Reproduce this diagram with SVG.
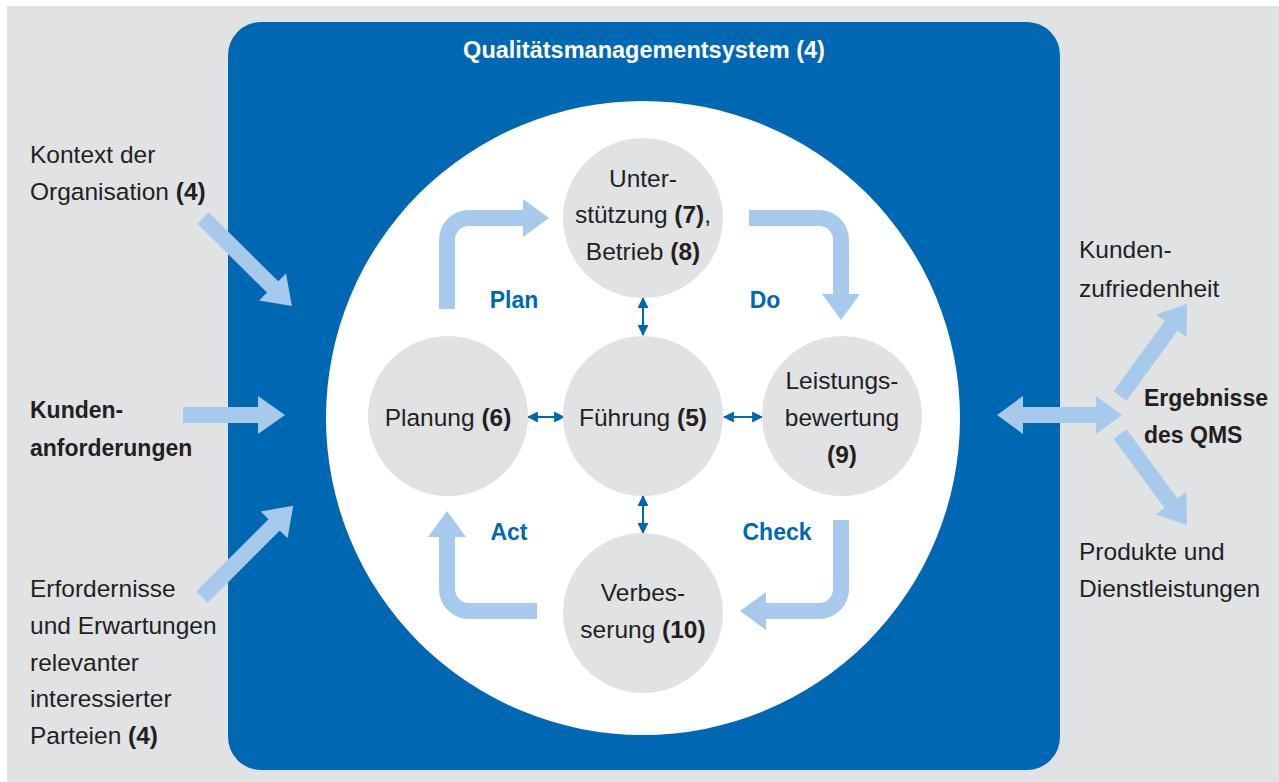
<svg xmlns="http://www.w3.org/2000/svg" width="1279" height="782" viewBox="0 0 1279 782">
<defs>
<style>
.t{font-family:"Liberation Sans",Arial,sans-serif;font-size:24.5px;fill:#231f20}
.b{font-weight:bold}
.c{text-anchor:middle}
.lbl{font-family:"Liberation Sans",Arial,sans-serif;font-size:23px;font-weight:bold;fill:#0068b3}
.node{fill:#e1e2e4}
.big{fill:#a7c9eb}
.bigs{fill:none;stroke:#a7c9eb;stroke-width:16}
.small{stroke:#0068b3;stroke-width:2;fill:none;marker-start:url(#mh);marker-end:url(#mh)}
</style>
<marker id="mh" viewBox="0 0 10 10" refX="9" refY="5" markerWidth="11" markerHeight="11" markerUnits="userSpaceOnUse" orient="auto-start-reverse">
<path d="M0,0 L10,5 L0,10 Z" fill="#0068b3"/>
</marker>
</defs>
<rect x="0" y="0" width="1279" height="782" fill="#ffffff"/>
<rect x="7" y="6" width="1272" height="776" fill="#e1e2e4"/>
<rect id="qms" x="228" y="22" width="832" height="748" rx="33" ry="33" fill="#0068b3"/>
<text class="t b c" x="644" y="58" style="fill:#ffffff;font-size:23.5px">Qualitätsmanagementsystem (4)</text>
<circle cx="643" cy="418" r="317" fill="#ffffff"/>

<g id="connectors">
<path class="big" transform="translate(203,218) rotate(44.7)" d="M0,-8 H98 V-19 L125,0 L98,19 V8 H0 Z"/>
<path class="big" transform="translate(183,415)" d="M0,-8 H75 V-19 L102,0 L75,19 V8 H0 Z"/>
<path class="big" transform="translate(202,597) rotate(-45)" d="M0,-8 H102 V-19 L129,0 L102,19 V8 H0 Z"/>
<path class="big" d="M997,415 L1023,396 V407 H1096 V396 L1122,415 L1096,434 V423 H1023 V434 Z"/>
<path class="big" transform="translate(1120,396) rotate(-53.9)" d="M0,-8 H87 V-19 L114,0 L87,19 V8 H0 Z"/>
<path class="big" transform="translate(1120,434) rotate(53.6)" d="M0,-8 H86 V-19 L113,0 L86,19 V8 H0 Z"/>

<path class="bigs" d="M447,309 V240 A22,22 0 0 1 469,218 H524"/>
<path class="big" d="M523,199 L549,218 L523,237 Z"/>
<path class="bigs" d="M749,218 H819 A22,22 0 0 1 841,240 V295"/>
<path class="big" d="M822,294 L841,320 L860,294 Z"/>
<path class="bigs" d="M841,520 V589 A22,22 0 0 1 819,611 H765"/>
<path class="big" d="M766,592 L740,611 L766,630 Z"/>
<path class="bigs" d="M537,611 H469 A22,22 0 0 1 447,589 V536"/>
<path class="big" d="M428,537 L447,511 L466,537 Z"/>

<line class="small" x1="643" y1="298" x2="643" y2="335"/>
<line class="small" x1="643" y1="496" x2="643" y2="533"/>
<line class="small" x1="528" y1="417" x2="564" y2="417"/>
<line class="small" x1="724" y1="417" x2="762" y2="417"/>
</g>

<g id="n-unterstuetzung">
<circle class="node" cx="643" cy="218" r="80"/>
<text class="t c" x="643" y="187">Unter-</text>
<text class="t c" x="643" y="223">stützung <tspan class="b">(7)</tspan>,</text>
<text class="t c" x="643" y="260">Betrieb <tspan class="b">(8)</tspan></text>
</g>
<g id="n-planung">
<circle class="node" cx="448" cy="416" r="80"/>
<text class="t c" x="448" y="426">Planung <tspan class="b">(6)</tspan></text>
</g>
<g id="n-fuehrung">
<circle class="node" cx="643" cy="416" r="80"/>
<text class="t c" x="643" y="426">Führung <tspan class="b">(5)</tspan></text>
</g>
<g id="n-leistung">
<circle class="node" cx="842" cy="416" r="80"/>
<text class="t c" x="842" y="389">Leistungs-</text>
<text class="t c" x="842" y="426">bewertung</text>
<text class="t b c" x="842" y="463">(9)</text>
</g>
<g id="n-verbesserung">
<circle class="node" cx="643" cy="613" r="80"/>
<text class="t c" x="643" y="601">Verbes-</text>
<text class="t c" x="643" y="638">serung <tspan class="b">(10)</tspan></text>
</g>

<g id="labels">
<text class="lbl c" x="514" y="308">Plan</text>
<text class="lbl c" x="765" y="308">Do</text>
<text class="lbl c" x="509" y="540">Act</text>
<text class="lbl c" x="777" y="540">Check</text>
</g>

<g id="n-kontext">
<text class="t" x="30" y="163">Kontext der</text>
<text class="t" x="30" y="200">Organisation <tspan class="b">(4)</tspan></text>
</g>
<g id="n-kundenanf">
<text class="t b" x="30" y="418" style="font-size:23px">Kunden-</text>
<text class="t b" x="30" y="456" style="font-size:23px">anforderungen</text>
</g>
<g id="n-erfordernisse">
<text class="t" x="30" y="597">Erfordernisse</text>
<text class="t" x="30" y="634">und Erwartungen</text>
<text class="t" x="30" y="671">relevanter</text>
<text class="t" x="30" y="707">interessierter</text>
<text class="t" x="30" y="744">Parteien <tspan class="b">(4)</tspan></text>
</g>
<g id="n-zufriedenheit">
<text class="t" x="1079" y="258">Kunden-</text>
<text class="t" x="1079" y="297">zufriedenheit</text>
</g>
<g id="n-ergebnisse">
<text class="t b" x="1144" y="406" style="font-size:23px">Ergebnisse</text>
<text class="t b" x="1144" y="443" style="font-size:23px">des QMS</text>
</g>
<g id="n-produkte">
<text class="t" x="1079" y="560">Produkte und</text>
<text class="t" x="1079" y="597">Dienstleistungen</text>
</g>
</svg>
